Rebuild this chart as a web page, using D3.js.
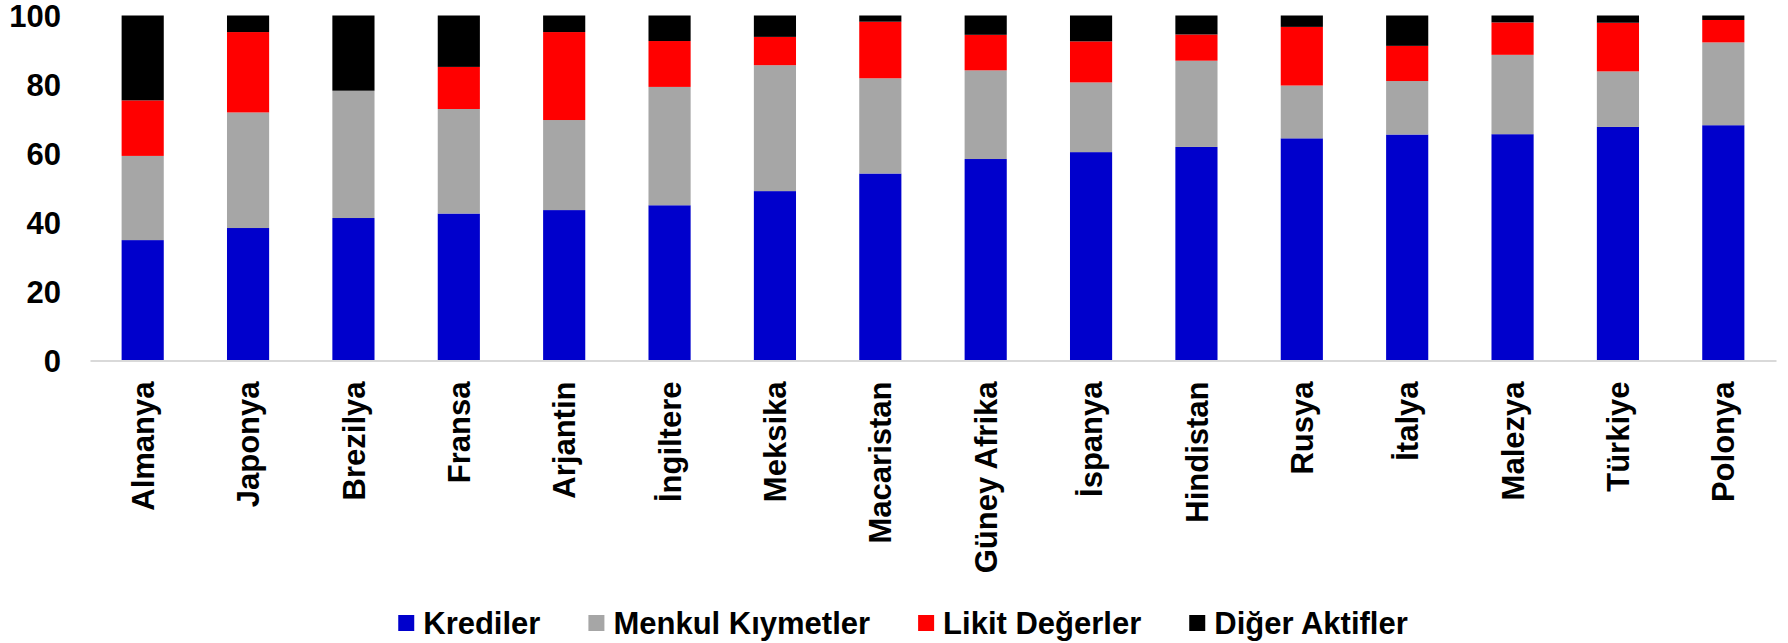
<!DOCTYPE html>
<html>
<head>
<meta charset="utf-8">
<script src="https://cdn.jsdelivr.net/npm/d3@7"></script>
<style>
  body { margin: 0; background: #fff; }
  text { font-family: "Liberation Sans", Arial, sans-serif; font-weight: bold; fill: #000; }
</style>
</head>
<body>
<div id="chart"></div>
<script>
// data (percent of total assets)
var countries = ["Almanya", "Japonya", "Brezilya", "Fransa", "Arjantin", "İngiltere", "Meksika", "Macaristan",
    "Güney Afrika", "İspanya", "Hindistan", "Rusya", "İtalya", "Malezya", "Türkiye", "Polonya"];
var krediler = [34.9, 38.4, 41.3, 42.6, 43.6, 45.0, 49.1, 54.2, 58.4, 60.4, 61.9, 64.4, 65.5, 65.6, 67.7, 68.2];
var menkul   = [24.4, 33.5, 36.9, 30.3, 26.1, 34.3, 36.5, 27.6, 25.7, 20.2, 25.0, 15.3, 15.5, 23.0, 16.1, 24.0];
var likit    = [16.1, 23.3, 0.0, 12.2, 25.5, 13.3, 8.2, 16.4, 10.3, 11.9, 7.6, 17.0, 10.2, 9.4, 14.1, 6.5];
var diger    = [24.6, 4.8, 21.8, 14.9, 4.8, 7.4, 6.2, 1.8, 5.6, 7.5, 5.5, 3.3, 8.8, 2.0, 2.1, 1.3];
var seriesNames = ["Krediler", "Menkul Kıymetler", "Likit Değerler", "Diğer Aktifler"];
var seriesColors = ["#0000cc", "#a6a6a6", "#ff0000", "#000000"];
var yTicks = [0, 20, 40, 60, 80, 100];

var W = 1788, H = 643;
var margin = { top: 15.5, right: 12, bottom: 282.5, left: 90 },
    width = W - margin.left - margin.right,
    height = H - margin.top - margin.bottom;

var svg = d3.select("#chart")
    .append("svg")
    .attr("width", W)
    .attr("height", H);

var g = svg.append("g")
    .attr("transform", "translate(" + margin.left + "," + margin.top + ")");

// build rows for the stack
var rows = countries.map(function (c, i) {
    return {
        country: c,
        "Krediler": krediler[i],
        "Menkul Kıymetler": menkul[i],
        "Likit Değerler": likit[i],
        "Diğer Aktifler": diger[i]
    };
});

var stacked = d3.stack().keys(seriesNames)(rows);

var x = d3.scaleBand()
    .domain(countries)
    .range([0, width])
    .paddingInner(0.6)
    .paddingOuter(0.3);

var y = d3.scaleLinear()
    .domain([0, 100])
    .range([height, 0]);

var color = d3.scaleOrdinal().domain(seriesNames).range(seriesColors);

// bars
g.selectAll("g.layer")
    .data(stacked)
    .enter()
    .append("g")
    .attr("class", "layer")
    .attr("fill", function (d) { return color(d.key); })
    .selectAll("rect")
    .data(function (d) { return d; })
    .enter()
    .append("rect")
    .attr("x", function (d) { return x(d.data.country); })
    .attr("width", x.bandwidth())
    .attr("y", function (d) { return y(d[1]); })
    .attr("height", function (d) { return y(d[0]) - y(d[1]); });

// x axis (line only, labels drawn rotated)
var xAxis = g.append("g")
    .attr("transform", "translate(0," + height + ")")
    .call(d3.axisBottom(x).tickSize(0).tickSizeOuter(0).tickFormat(""));
xAxis.select(".domain").attr("stroke", "#d9d9d9").attr("stroke-width", 2);

xAxis.selectAll(".tick")
    .append("text")
    .attr("transform", "translate(0,21) rotate(-90)")
    .attr("text-anchor", "end")
    .attr("dy", "0.36em")
    .style("font-size", "31px")
    .text(function (d) { return d; });

// y axis
var yAxis = g.append("g")
    .call(d3.axisLeft(y).tickValues(yTicks).tickSize(0).tickPadding(29));
yAxis.select(".domain").remove();
yAxis.selectAll("text")
    .style("font-size", "31px")
    .attr("dy", "0.36em");

// legend
var legend = svg.append("g").attr("transform", "translate(0,634)");
var lx = 0;
var items = legend.selectAll("g.item")
    .data(seriesNames)
    .enter()
    .append("g")
    .attr("class", "item");
items.append("rect")
    .attr("y", -19)
    .attr("width", 16)
    .attr("height", 16)
    .attr("fill", function (d) { return color(d); });
items.append("text")
    .attr("x", 25)
    .style("font-size", "31px")
    .text(function (d) { return d; });
items.each(function () {
    d3.select(this).attr("transform", "translate(" + lx + ",0)");
    lx += 25 + d3.select(this).select("text").node().getComputedTextLength() + 48;
});
var legendWidth = lx - 48;
legend.attr("transform", "translate(" + (903 - legendWidth / 2) + ",634)");
</script>
</body>
</html>
